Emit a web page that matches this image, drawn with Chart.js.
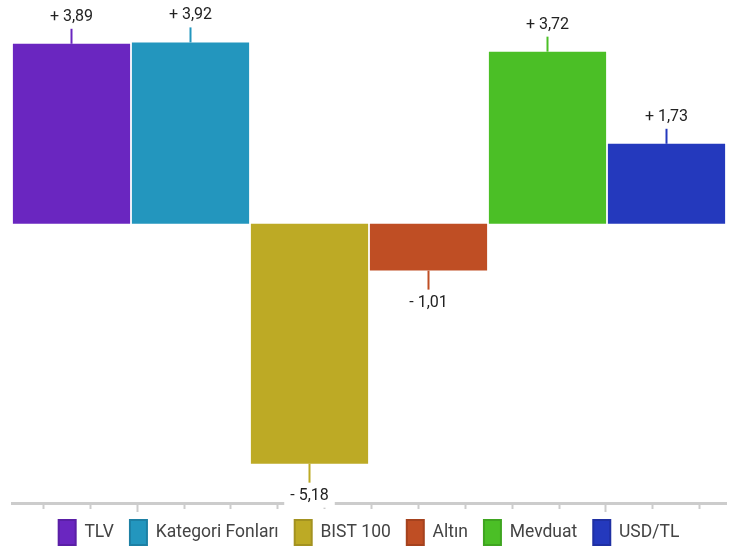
<!DOCTYPE html>
<html>
<head>
  <title>Getiri Karşılaştırması</title>
  <script src="https://cdn.jsdelivr.net/npm/chart.js@4/dist/chart.umd.min.js"></script>
  <style>
    html, body { margin: 0; padding: 0; background: #fff; }
    #chartContainer { width: 739px; height: 547px; }
  </style>
</head>
<body>
  <div id="chartContainer">
    <canvas id="barChart"></canvas>
  </div>

  <script>
    // chart data
    var categories = ["TLV", "Kategori Fonları", "BIST 100", "Altın", "Mevduat", "USD/TL"];
    var values = [3.89, 3.92, -5.18, -1.01, 3.72, 1.73];
    var barColors = ["#6A26C0", "#2396BE", "#BDAA25", "#BF4E24", "#4BBF26", "#2439BD"];
    var edgeColors = ["#5A1FA6", "#1D80A4", "#A39220", "#A5421E", "#3FA520", "#1F30A3"];
    // decorative bottom axis ticks
    var axisTicks = [0, 1, 2, 3, 4, 5, 6, 7, 8, 9, 10, 11, 12, 13, 14];
    var longTicks = [2, 12];

    var FONT = "Roboto, 'Noto Sans', sans-serif";

    function formatValue(v) {
      return (v >= 0 ? "+ " : "- ") + Math.abs(v).toFixed(2).replace(".", ",");
    }

    // value labels with a small connector line
    var valueLabels = {
      id: "valueLabels",
      afterDraw: function(chart) {
        var ctx = chart.ctx;
        ctx.save();
        ctx.font = "16px " + FONT;
        ctx.textAlign = "center";
        ctx.textBaseline = "middle";
        chart.data.datasets.forEach(function(ds, i) {
          var bar = chart.getDatasetMeta(i).data[i];
          if (!bar) return;
          var v = values[i];
          var up = v >= 0;
          var yEnd = up ? bar.y - 16 : bar.y + 19;
          ctx.strokeStyle = barColors[i];
          ctx.lineWidth = 2;
          ctx.beginPath();
          ctx.moveTo(bar.x, bar.y);
          ctx.lineTo(bar.x, yEnd);
          ctx.stroke();

          var text = formatValue(v);
          var ty = up ? yEnd - 11 : yEnd + 13;
          var w = ctx.measureText(text).width;
          ctx.fillStyle = "#fff";
          ctx.fillRect(bar.x - w / 2 - 6, ty - 8, w + 12, 20);
          ctx.fillStyle = "#222";
          ctx.fillText(text, bar.x, ty);
        });
        ctx.restore();
      }
    };

    var datasets = categories.map(function(name, i) {
      return {
        label: name,
        data: values.map(function(v, j) { return j === i ? v : null; }),
        backgroundColor: barColors[i],
        borderColor: edgeColors[i],
        borderWidth: 0,
        grouped: false,
        barPercentage: 0.985,
        categoryPercentage: 1
      };
    });

    var ctx = document.getElementById("barChart").getContext("2d");
    new Chart(ctx, {
      type: "bar",
      data: { labels: categories, datasets: datasets },
      options: {
        responsive: true,
        maintainAspectRatio: false,
        animation: false,
        layout: { padding: { left: 12, right: 13, top: 10, bottom: -8 } },
        plugins: {
          tooltip: { enabled: false },
          legend: {
            position: "bottom",
            labels: {
              boxWidth: 17,
              boxHeight: 25,
              padding: 16,
              color: "#444",
              font: { family: FONT, size: 17.5 },
              generateLabels: function(chart) {
                var items = Chart.defaults.plugins.legend.labels.generateLabels(chart);
                return items.map(function(item, i) {
                  item.strokeStyle = edgeColors[i];
                  item.lineWidth = 2;
                  return item;
                });
              }
            }
          }
        },
        scales: {
          x: { type: "category", display: false },
          y: { display: false, min: -6.03, max: 4.62 },
          t: {
            type: "linear",
            axis: "x",
            position: "bottom",
            offset: false,
            bounds: "data",
            min: -0.67,
            max: 14.56,
            afterBuildTicks: function(scale) {
              scale.ticks = axisTicks.map(function(v) { return { value: v }; });
            },
            afterFit: function(scale) { scale.height = 1; },
            ticks: { display: false, includeBounds: false },
            border: { color: "#cccccc", width: 3 },
            grid: {
              offset: false,
              drawOnChartArea: false,
              tickLength: 9,
              tickWidth: 2,
              tickColor: "#cccccc",
              tickBorderDash: function(c) {
                return longTicks.indexOf(c.tick && c.tick.value) >= 0 ? [] : [4, 20];
              }
            }
          }
        }
      },
      plugins: [valueLabels]
    });
  </script>
</body>
</html>
